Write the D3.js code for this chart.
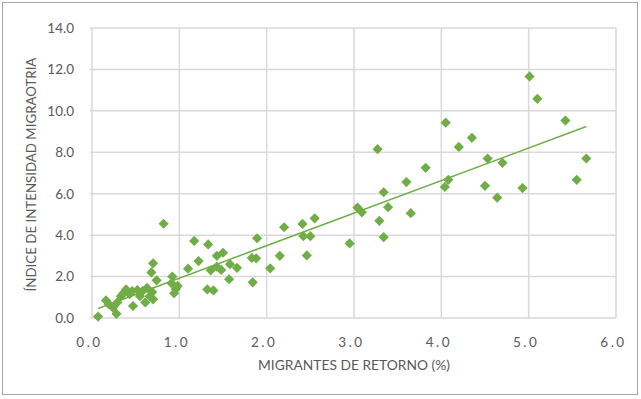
<!DOCTYPE html>
<html>
<head>
<meta charset="utf-8">
<script src="https://cdn.jsdelivr.net/npm/d3@7"></script>
<style>
  body { margin: 0; background: #fff; }
  text { font-family: Lato, "Open Sans", sans-serif; fill: #595959; }
</style>
</head>
<body>
<div id="chart"></div>
<script>
// Migrantes de retorno (%) vs. índice de intensidad migratoria
const retorno = [
  0.07, 0.16, 0.19, 0.24, 0.28, 0.29, 0.33, 0.36, 0.39, 0.43,
  0.46, 0.47, 0.52, 0.55, 0.58, 0.61, 0.63, 0.66, 0.69, 0.70,
  0.70, 0.68, 0.74, 0.82, 0.92, 0.91, 0.96, 0.94, 0.98, 1.10,
  1.17, 1.22, 1.33, 1.32, 1.39, 1.36, 1.43, 1.43, 1.48, 1.50,
  1.58, 1.66, 1.57, 1.83, 1.88, 1.84, 1.89, 2.04, 2.15, 2.20,
  2.41, 2.42, 2.50, 2.46, 2.55,
  2.95, 3.04, 3.09, 3.27, 3.29, 3.34, 3.34, 3.39, 3.60, 3.65, 3.82,
  4.05, 4.04, 4.08, 4.20, 4.35, 4.50, 4.53, 4.64, 4.70, 4.93,
  5.01, 5.10, 5.42, 5.55, 5.66
];
const indice = [
  0.07, 0.85, 0.68, 0.50, 0.20, 0.75, 1.05, 1.20, 1.38, 1.15,
  1.30, 0.58, 1.35, 1.05, 1.30, 0.75, 1.45, 1.05, 1.25, 0.90,
  2.64, 2.20, 1.82, 4.55, 2.00, 1.68, 1.40, 1.20, 1.55, 2.38,
  3.72, 2.75, 3.55, 1.38, 1.33, 2.30, 3.00, 2.48, 2.32, 3.15,
  2.60, 2.42, 1.87, 2.90, 2.88, 1.72, 3.85, 2.40, 3.00, 4.38,
  4.54, 3.95, 3.95, 3.02, 4.81,
  3.60, 5.33, 5.10, 8.15, 4.69, 6.07, 3.90, 5.35, 6.56, 5.06, 7.25,
  9.43, 6.33, 6.67, 8.26, 8.70, 6.38, 7.70, 5.81, 7.49, 6.27,
  11.66, 10.58, 9.53, 6.67, 7.70
];
const xTicks = [0, 1, 2, 3, 4, 5, 6];
const yTicks = [0, 2, 4, 6, 8, 10, 12, 14];

const data = retorno.map((x, i) => ({ x, y: indice[i] }));

const width = 641;
const height = 399;
const marginTop = 28;
const marginRight = 25;
const marginBottom = 81;
const marginLeft = 92;
const green = "#70AD47";

const x = d3.scaleLinear().domain([0, 6]).range([marginLeft, width - marginRight]);
const y = d3.scaleLinear().domain([0, 14]).range([height - marginBottom, marginTop]);

const svg = d3.select("#chart").append("svg")
  .attr("width", width)
  .attr("height", height)
  .attr("viewBox", [0, 0, width, height]);

// Rahmen
svg.append("rect")
  .attr("x", 2.5).attr("y", 2.5)
  .attr("width", 635).attr("height", 392)
  .attr("fill", "#fff")
  .attr("stroke", "#a6a6a6");

// Gitterlinien
svg.append("g")
  .attr("stroke", "#d9d9d9")
  .attr("stroke-width", 1.5)
  .call(g => g.selectAll("line.h").data(yTicks).join("line")
    .attr("x1", marginLeft - 2).attr("x2", width - marginRight)
    .attr("y1", d => y(d)).attr("y2", d => y(d)))
  .call(g => g.selectAll("line.v").data(xTicks).join("line")
    .attr("y1", marginTop).attr("y2", height - marginBottom)
    .attr("x1", d => x(d)).attr("x2", d => x(d)));

// Y-Achse
svg.append("g")
  .attr("transform", `translate(${marginLeft - 15},0)`)
  .call(d3.axisLeft(y).tickValues(yTicks).tickFormat(d3.format(".1f")).tickSize(0))
  .call(g => g.select(".domain").remove())
  .call(g => g.selectAll("text")
    .style("font-size", "13.5px")
    .attr("fill", "#595959"));

// X-Achse
svg.append("g")
  .attr("transform", `translate(-3,${height - marginBottom + 16})`)
  .call(d3.axisBottom(x).tickValues(xTicks).tickFormat(d3.format(".1f")).tickSize(0))
  .call(g => g.select(".domain").remove())
  .call(g => g.selectAll("text")
    .style("font-size", "13.5px")
    .style("letter-spacing", "2.5px")
    .attr("fill", "#595959"));

// Trendlinie (lineare Regression)
const reg = (() => {
  const mx = d3.mean(data, d => d.x), my = d3.mean(data, d => d.y);
  const b = d3.sum(data, d => (d.x - mx) * (d.y - my)) / d3.sum(data, d => (d.x - mx) ** 2);
  return { b, a: my - b * mx };
})();
const [x0, x1] = d3.extent(data, d => d.x);
svg.append("line")
  .attr("x1", x(x0)).attr("y1", y(reg.a + reg.b * x0))
  .attr("x2", x(x1)).attr("y2", y(reg.a + reg.b * x1))
  .attr("stroke", green)
  .attr("stroke-width", 1.5);

// Punkte
svg.append("g")
  .attr("fill", green)
  .selectAll("path")
  .data(data)
  .join("path")
  .attr("d", d3.symbol(d3.symbolSquare, 52))
  .attr("transform", d => `translate(${x(d.x)},${y(d.y)}) rotate(45)`);

// Achsentitel
svg.append("text")
  .attr("x", 354)
  .attr("y", 370)
  .attr("text-anchor", "middle")
  .style("font-size", "13.8px")
  .text("MIGRANTES DE RETORNO (%)");

svg.append("text")
  .attr("transform", `translate(36,${(52 + 297) / 2}) rotate(-90)`)
  .attr("text-anchor", "middle")
  .style("font-size", "13.3px")
  .text("ÍNDICE DE INTENSIDAD MIGRAOTRIA");
</script>
</body>
</html>
